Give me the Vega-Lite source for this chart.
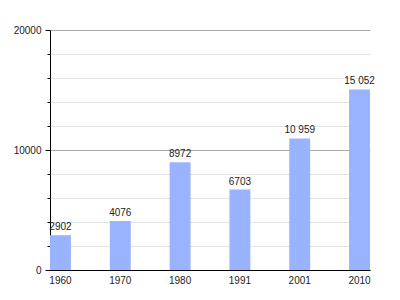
{
  "$schema": "https://vega.github.io/schema/vega-lite/v6.json",
  "width": 320,
  "height": 240,
  "autosize": {"type": "none"},
  "padding": {"left": 50, "top": 30, "right": 30, "bottom": 30},
  "background": "white",
  "config": {
    "view": {"stroke": null},
    "font": "Liberation Sans"
  },
  "data": {
    "values": [
      {"year": "1960", "population": 2902, "label": "2902"},
      {"year": "1970", "population": 4076, "label": "4076"},
      {"year": "1980", "population": 8972, "label": "8972"},
      {"year": "1991", "population": 6703, "label": "6703"},
      {"year": "2001", "population": 10959, "label": "10 959"},
      {"year": "2010", "population": 15052, "label": "15 052"}
    ]
  },
  "encoding": {
    "x": {
      "field": "year",
      "type": "ordinal",
      "sort": null,
      "scale": {"paddingInner": 0.65, "paddingOuter": 0},
      "axis": {
        "title": null,
        "labelAngle": 0,
        "ticks": false,
        "domainColor": "#000000",
        "domainWidth": 1,
        "labelFontSize": 10,
        "labelColor": "#222222",
        "labelPadding": 5,
        "labelFont": "Liberation Sans",
        "zindex": 1
      }
    },
    "y": {
      "field": "population",
      "type": "quantitative",
      "scale": {"domain": [0, 20000], "nice": false},
      "axis": {
        "title": null,
        "values": [0, 2000, 4000, 6000, 8000, 10000, 12000, 14000, 16000, 18000, 20000],
        "format": "d",
        "labelExpr": "datum.value % 10000 === 0 ? datum.label : ''",
        "labelFontSize": 10,
        "labelColor": "#222222",
        "labelFont": "Liberation Sans",
        "labelPadding": 4,
        "domainColor": "#000000",
        "tickColor": "#000000",
        "tickSize": {"condition": {"test": "datum.value % 10000 === 0", "value": 5}, "value": 3},
        "grid": true,
        "gridColor": {"condition": {"test": "datum.value % 10000 === 0", "value": "#aaaaaa"}, "value": "#e2e2e2"},
        "zindex": 0
      }
    }
  },
  "layer": [
    {
      "mark": {"type": "bar", "color": "#99b3ff"}
    },
    {
      "mark": {"type": "text", "dy": -5, "baseline": "alphabetic", "fontSize": 10, "color": "#222222", "font": "Liberation Sans"},
      "encoding": {"text": {"field": "label"}}
    }
  ]
}
